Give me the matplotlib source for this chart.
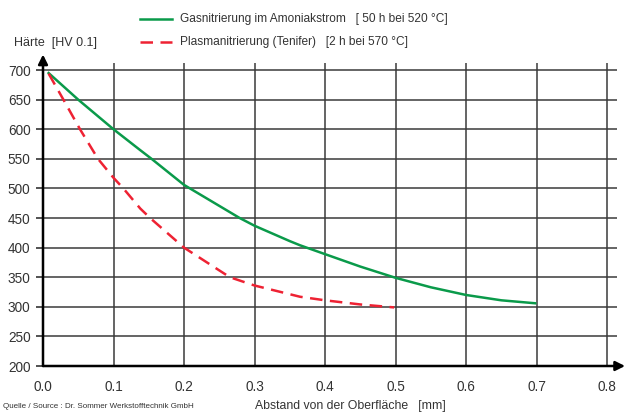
import numpy as np
import matplotlib.pyplot as plt
from matplotlib.lines import Line2D

plt.rcParams['font.family'] = ['Liberation Sans', 'DejaVu Sans']

# Gasnitrierung (green)
gas_x = [0.008, 0.05, 0.1, 0.1376, 0.154, 0.2, 0.279, 0.3, 0.35, 0.3645, 0.4, 0.45, 0.5, 0.55, 0.6, 0.65, 0.698]
gas_y = [695, 650, 600, 565, 550, 506, 450, 437, 411, 404, 389, 368, 349, 333, 320, 311, 306]

# Plasmanitrierung (red, dashed)
plasma_x = [0.008, 0.029, 0.0525, 0.078, 0.1, 0.114, 0.138, 0.152, 0.2, 0.265, 0.3, 0.3645, 0.4, 0.45, 0.498]
plasma_y = [694, 650, 600, 550, 518, 500, 466, 450, 400, 350, 336, 317, 311, 304, 299]

xticks = [0.0, 0.1, 0.2, 0.3, 0.4, 0.5, 0.6, 0.7, 0.8]
yticks = [200, 250, 300, 350, 400, 450, 500, 550, 600, 650, 700]

fig = plt.figure(figsize=(6.27, 4.12), dpi=100)
ax = fig.add_axes([43/627, 1-366/412, 574/627, 303/412])

grid_c = '#3a3a3a'
for xv in xticks[1:]:
    ax.axvline(xv, color=grid_c, lw=1.1, zorder=1)
for yv in yticks[1:]:
    ax.axhline(yv, color=grid_c, lw=1.1, zorder=1)

ax.plot(gas_x, gas_y, color='#0a9a4a', lw=1.8, zorder=3)
ax.plot(plasma_x, plasma_y, color='#ee2233', lw=1.8, dashes=(5, 3), zorder=3)

ax.set_xlim(0, 0.814)
ax.set_ylim(200, 712)
ax.set_xticks(xticks)
ax.set_xticklabels([f'{v:.1f}' for v in xticks])
ax.set_yticks(yticks)
for s in ax.spines.values():
    s.set_visible(False)
ax.tick_params(axis='both', colors='#222222', labelcolor='#333333', labelsize=9.8)
ax.tick_params(axis='x', length=0, pad=10)
ax.tick_params(axis='y', length=5, width=1.1, pad=4)

# axis arrows
ax.annotate('', xy=(1.014, 0), xytext=(0, 0), xycoords='axes fraction',
            arrowprops=dict(arrowstyle='-|>', color='black', lw=1.8,
                            mutation_scale=14, shrinkA=0, shrinkB=0),
            annotation_clip=False, zorder=5)
ax.annotate('', xy=(0, 1.028), xytext=(0, 0), xycoords='axes fraction',
            arrowprops=dict(arrowstyle='-|>', color='black', lw=1.8,
                            mutation_scale=14, shrinkA=0, shrinkB=0),
            annotation_clip=False, zorder=5)

# labels
fig.text(14/627, 1-43/412, 'Härte  [HV 0.1]', fontsize=9, color='#333333', va='center')
fig.text(350/627, 1-406/412, 'Abstand von der Oberfläche   [mm]', fontsize=8.8,
         color='#333333', ha='center', va='center')
fig.text(3/627, 1-406/412, 'Quelle / Source : Dr. Sommer Werkstofftechnik GmbH',
         fontsize=5.8, color='#333333', va='center')

# legend
fig.add_artist(Line2D([140/627, 172/627], [1-19/412, 1-19/412], color='#0a9a4a', lw=1.8))
fig.add_artist(Line2D([140/627, 172/627], [1-42/412, 1-42/412], color='#ee2233', lw=1.8,
                      dashes=(5, 3)))
fig.text(180/627, 1-19/412, 'Gasnitrierung im Amoniakstrom   [ 50 h bei 520 °C]',
         fontsize=8.6, color='#333333', va='center')
fig.text(180/627, 1-42/412, 'Plasmanitrierung (Tenifer)   [2 h bei 570 °C]',
         fontsize=8.6, color='#333333', va='center')

fig.savefig('out.png', dpi=100)
